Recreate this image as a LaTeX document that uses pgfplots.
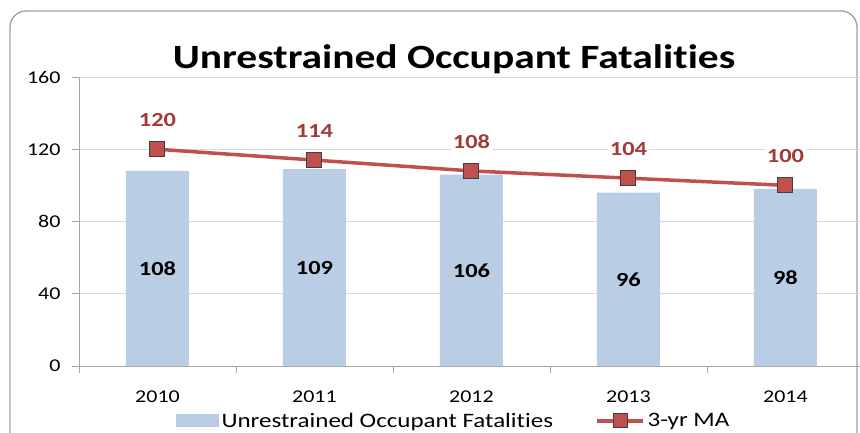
\documentclass[border=0pt]{standalone}
\usepackage{pgfplots}
\pgfplotsset{compat=1.18}
\usepackage{pgfplotstable}
\usepackage{fontspec}
\setmainfont{Carlito}[FakeStretch=1.22, Ligatures=NoCommon]

\definecolor{barblue}{HTML}{B9CDE5}
\definecolor{maline}{HTML}{C0504D}
\definecolor{malabel}{HTML}{A13B39}
\definecolor{gridgray}{HTML}{D9D9D9}
\definecolor{axgray}{HTML}{A6A6A6}

\pgfplotstableread{
x year fat ma
0 2010 108 120
1 2011 109 114
2 2012 106 108
3 2013 96 104
4 2014 98 100
}\data

\begin{document}
\begin{tikzpicture}
\useasboundingbox (0pt,0pt) rectangle (860pt,-433pt);
\clip (0pt,0pt) rectangle (860pt,-433pt);
% outer chart frame
\draw[draw=gray!75, line width=1.3pt, rounded corners=16pt] (10pt,-11pt) rectangle (857pt,-450pt);
\node[font=\bfseries\fontsize{34}{40}\selectfont] at (454pt,-59pt) {Unrestrained Occupant Fatalities};

\begin{axis}[
    at={(79pt,-366pt)}, anchor=south west,
    width=781pt, height=289pt, scale only axis,
    xmin=-0.5, xmax=4.475, ymin=0, ymax=160,
    axis x line*=bottom, axis y line*=left,
    axis line style={-, draw=axgray, line width=0.8pt},
    ytick={0,40,...,160},
    ymajorgrids, grid style={draw=gridgray, line width=0.8pt},
    xtick={0,...,4},
    xticklabels={2010,2011,2012,2013,2014},
    minor xtick={-0.5,0.5,...,3.5},
    major x tick style={draw=none},
    minor x tick style={draw=axgray, line width=0.8pt},
    ytick style={draw=axgray, line width=0.8pt},
    tick align=outside, major tick length=7pt, minor tick length=7pt,
    tick label style={font=\fontsize{18}{21}\selectfont},
    xticklabel style={yshift=-14pt},
    yticklabel style={xshift=-8pt},
    /pgf/number format/assume math mode=true,
    legend style={at={(0.48,-0.19)}, anchor=center, draw=none, fill=none,
        legend columns=2, font=\fontsize{20.5}{23}\selectfont,
        /tikz/every even column/.append style={column sep=40pt},
        inner sep=0pt, nodes={inner sep=2.5pt}},
]
\addplot[ybar, fill=barblue, draw=none, bar width=63pt,
    legend image code/.code={\fill[barblue] (0pt,-6.5pt) rectangle (43pt,6.5pt);}]
    table[x=x, y=fat] {\data};
\addlegendentry{Unrestrained Occupant Fatalities}

% value labels in the middle of the bars
\addplot[draw=none, mark=none, forget plot,
    nodes near coords, point meta=explicit symbolic,
    every node near coord/.style={anchor=center, text=black,
        font=\bfseries\fontsize{20}{24}\selectfont}]
    table[x=x, y expr=\thisrow{fat}/2, meta=fat] {\data};

\addplot[draw=maline, line width=3.5pt, mark=square*, mark size=7.5pt,
    mark options={fill=maline, draw=black!75, line width=1pt},
    nodes near coords, point meta=explicit symbolic,
    every node near coord/.style={anchor=center, yshift=29pt, fill=white,
        inner sep=2pt, text=malabel, font=\bfseries\fontsize{20}{24}\selectfont},
    legend image code/.code={
        \draw[maline, line width=3.5pt] (0pt,0pt) -- (46pt,0pt);
        \draw[fill=maline, draw=black!75, line width=1pt] (16pt,-7pt) rectangle (30pt,7pt);}]
    table[x=x, y=ma, meta=ma] {\data};
\addlegendentry{3-yr MA}
\end{axis}
\end{tikzpicture}
\end{document}
